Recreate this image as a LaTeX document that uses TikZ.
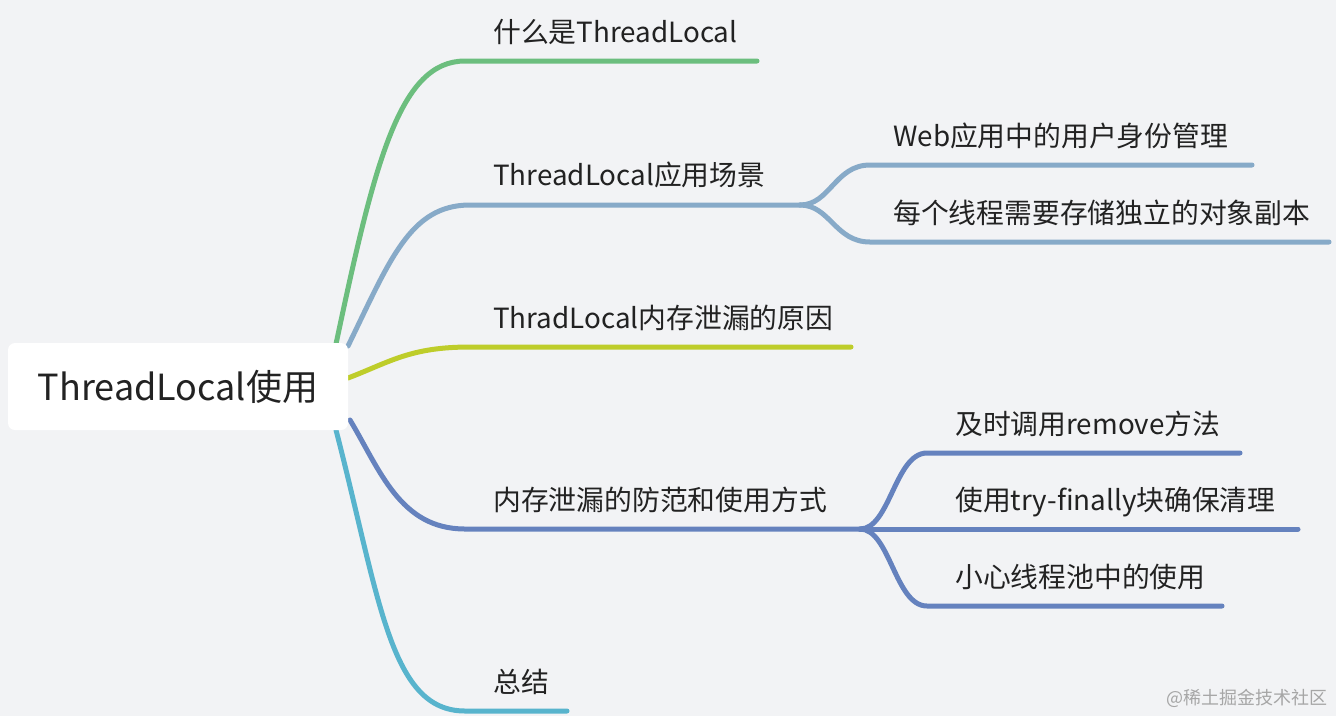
\documentclass[tikz,border=0pt]{standalone}
\usepackage{fontspec}
\setmainfont{Noto Sans CJK SC}
\definecolor{bg}{HTML}{F2F3F5}
\definecolor{cgreen}{HTML}{6CBE7E}
\definecolor{cblue}{HTML}{87AAC8}
\definecolor{cyel}{HTML}{BECD2A}
\definecolor{cdark}{HTML}{6582BE}
\definecolor{ccyan}{HTML}{58B4CD}
\definecolor{txt}{HTML}{222222}
\tikzset{
  branch/.style={line width=5pt, line cap=round},
  lbl/.style={anchor=base west, inner sep=0pt, text=txt, font=\fontsize{27.8}{32}\selectfont},
  rootbox/.style={fill=white, rounded corners=7pt, minimum width=340pt, minimum height=87pt, inner sep=0pt, text=txt, font=\fontsize{36}{42}\selectfont},
}
\begin{document}
\begin{tikzpicture}[x=1pt,y=-1pt]
\fill[bg] (0,0) rectangle (1336,716);
\useasboundingbox (0,0) rectangle (1336,716);
% anchor coordinates on root
\coordinate (r1) at (336,344);
\coordinate (r2) at (348,346);
\coordinate (r3) at (348,378);
\coordinate (r4) at (350,420);
\coordinate (r5) at (336,430);
% level 1 line ends
\coordinate (a1) at (465,61);  \coordinate (e1) at (757,61);
\coordinate (a2) at (470,205); \coordinate (f2) at (800,205);
\coordinate (a3) at (470,347); \coordinate (e3) at (851,347);
\coordinate (a4) at (465,529); \coordinate (f4) at (860,529);
\coordinate (a5) at (465,711); \coordinate (e5) at (567,711);
% level 2
\coordinate (b21) at (870,165); \coordinate (e21) at (1252,165);
\coordinate (b22) at (870,242); \coordinate (e22) at (1329,242);
\coordinate (b41) at (927,453); \coordinate (e41) at (1240,453);
\coordinate (e42) at (1298,529);
\coordinate (b43) at (927,606); \coordinate (e43) at (1222,606);

\draw[branch,cgreen] (r1) .. controls (375,160) and (400,61) .. (a1) -- (e1);
\draw[branch,cblue] (r2) .. controls (390,260) and (410,205) .. (a2) -- (f2);
\draw[branch,cblue] (f2) .. controls (830,205) and (835,165) .. (b21) -- (e21);
\draw[branch,cblue] (f2) .. controls (830,205) and (835,242) .. (b22) -- (e22);
\draw[branch,cyel] (r3) .. controls (390,362) and (410,347) .. (a3) -- (e3);
\draw[branch,cdark] (r4) .. controls (380,470) and (400,529) .. (a4) -- (f4);
\draw[branch,cdark] (f4) .. controls (890,529) and (895,453) .. (b41) -- (e41);
\draw[branch,cdark] (f4) -- (e42);
\draw[branch,cdark] (f4) .. controls (890,529) and (895,606) .. (b43) -- (e43);
\draw[branch,ccyan] (r5) .. controls (380,600) and (390,711) .. (a5) -- (e5);

\node[rootbox] (root) at (178,386.5) {ThreadLocal使用};

\node[lbl] (t1) at (493,42) {什么是ThreadLocal};
\node[lbl] (t2) at (493,185) {ThreadLocal应用场景};
\node[lbl] (t21) at (893,146) {Web应用中的用户身份管理};
\node[lbl] (t22) at (893,223) {每个线程需要存储独立的对象副本};
\node[lbl] (t3) at (493,328) {ThradLocal内存泄漏的原因};
\node[lbl] (t4) at (493,510) {内存泄漏的防范和使用方式};
\node[lbl] (t41) at (955,434) {及时调用remove方法};
\node[lbl] (t42) at (955,510) {使用try-finally块确保清理};
\node[lbl] (t43) at (955,587) {小心线程池中的使用};
\node[lbl] (t5) at (493,692) {总结};
\node[anchor=base east, inner sep=0pt, text=black!35, font=\fontsize{18}{20}\selectfont] (wm) at (1328,704) {@稀土掘金技术社区};
\end{tikzpicture}
\end{document}
